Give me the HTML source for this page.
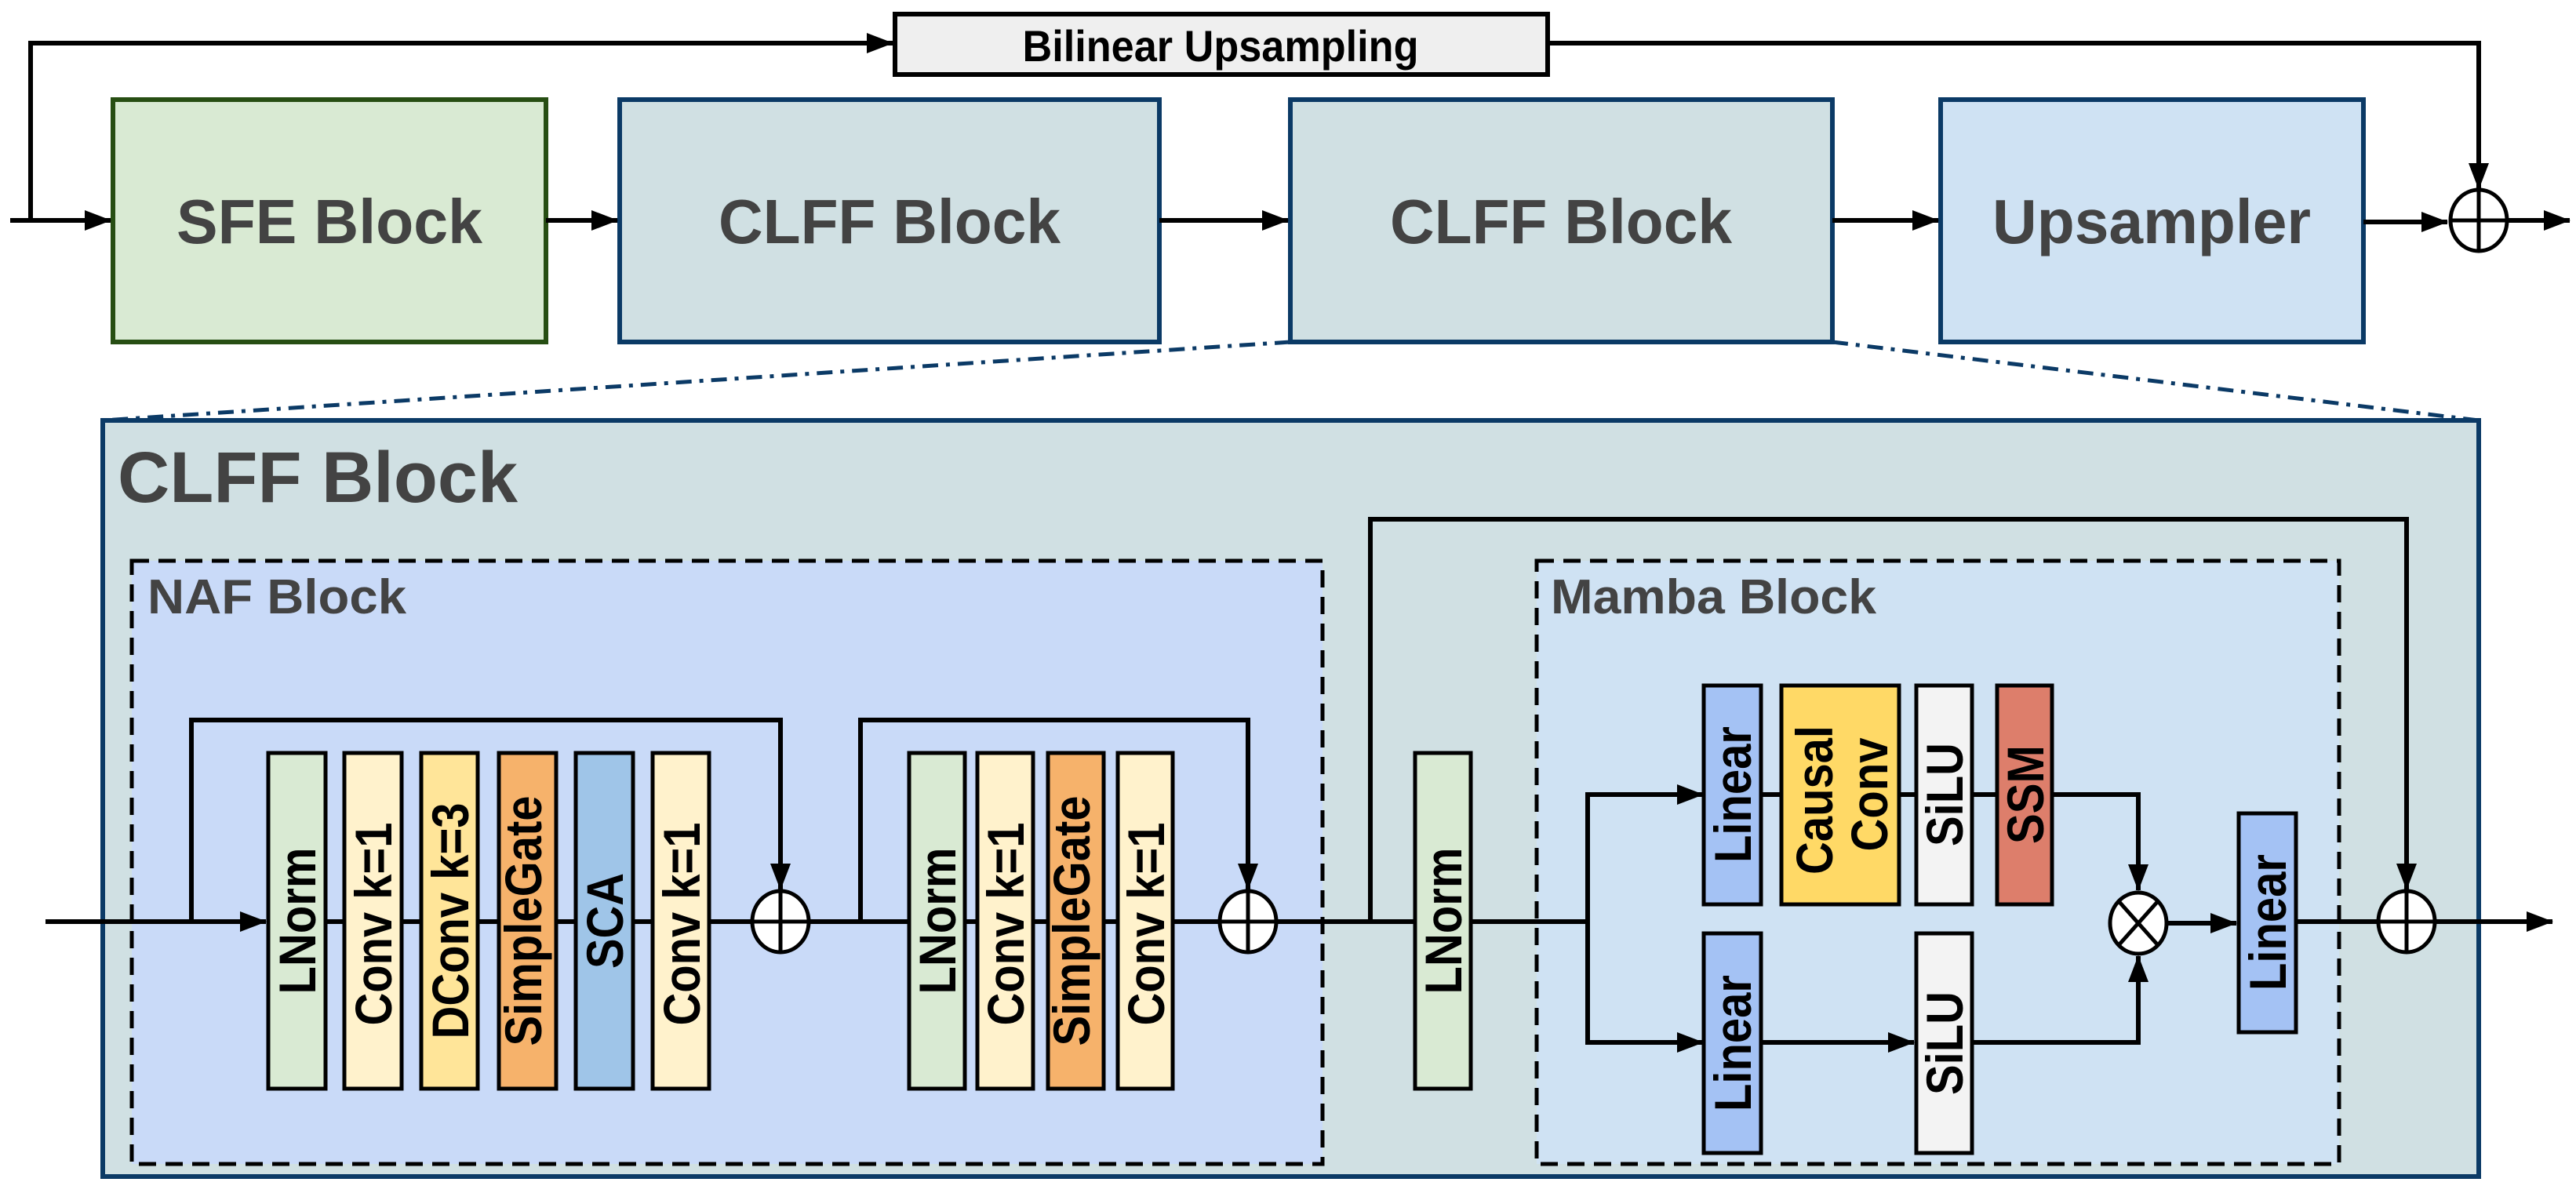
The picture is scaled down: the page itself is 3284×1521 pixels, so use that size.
<!DOCTYPE html>
<html><head><meta charset="utf-8"><style>
html,body{margin:0;padding:0;background:#fff;}
svg{display:block;}
text{font-family:"Liberation Sans",Arial,sans-serif;font-weight:bold;}
</style></head><body>
<svg width="3284" height="1521" viewBox="0 0 3284 1521" xmlns="http://www.w3.org/2000/svg">
<defs>
<marker id="a" markerWidth="34" markerHeight="26" refX="33" refY="13" orient="auto" markerUnits="userSpaceOnUse"><path d="M0,0 L34,13 L0,26z" fill="#000"/></marker>
</defs>

<!-- top row -->
<rect x="1141" y="18" width="832" height="77" fill="#efefef" stroke="#000" stroke-width="6"/>
<text x="1556" y="78" font-size="56" text-anchor="middle" textLength="505" lengthAdjust="spacingAndGlyphs" fill="#000">Bilinear Upsampling</text>

<rect x="144" y="127" width="552" height="309" fill="#d9ead3" stroke="#274e13" stroke-width="6"/>
<rect x="790" y="127" width="688" height="309" fill="#d0e0e3" stroke="#0b3a66" stroke-width="6"/>
<rect x="1645" y="127" width="691" height="309" fill="#d0e0e3" stroke="#0b3a66" stroke-width="6"/>
<rect x="2474" y="127" width="539" height="309" fill="#cfe2f3" stroke="#0b3a66" stroke-width="6"/>
<g font-size="80" fill="#434343" text-anchor="middle">
<text x="420" y="310" textLength="390" lengthAdjust="spacingAndGlyphs">SFE Block</text>
<text x="1134" y="310" textLength="436" lengthAdjust="spacingAndGlyphs">CLFF Block</text>
<text x="1990" y="310" textLength="436" lengthAdjust="spacingAndGlyphs">CLFF Block</text>
<text x="2743" y="310" textLength="406" lengthAdjust="spacingAndGlyphs">Upsampler</text>
</g>
<g stroke="#000" stroke-width="6" fill="none">
<line x1="13" y1="281" x2="141" y2="281" marker-end="url(#a)"/>
<polyline points="39,281 39,55 1138,55" marker-end="url(#a)"/>
<line x1="696" y1="281" x2="787" y2="281" marker-end="url(#a)"/>
<line x1="1478" y1="281" x2="1642" y2="281" marker-end="url(#a)"/>
<line x1="2336" y1="281" x2="2471" y2="281" marker-end="url(#a)"/>
<line x1="3013" y1="283" x2="3120" y2="283" marker-end="url(#a)"/>
<polyline points="1973,55 3160,55 3160,241" marker-end="url(#a)"/>
<line x1="3198" y1="281" x2="3276" y2="281" marker-end="url(#a)"/>
</g>
<g stroke="#000" stroke-width="5" fill="#fff">
<ellipse cx="3160" cy="281" rx="36" ry="39"/>
<line x1="3124" y1="281" x2="3196" y2="281"/><line x1="3160" y1="242" x2="3160" y2="320"/>
</g>

<!-- dash-dot zoom lines -->
<g stroke="#0b3a66" stroke-width="5" stroke-dasharray="20 10 5 10" fill="none">
<line x1="1645" y1="436" x2="131" y2="536"/>
<line x1="2336" y1="436" x2="3160" y2="536"/>
</g>

<!-- big CLFF box -->
<rect x="131" y="536" width="3029" height="964" fill="#d0e0e3" stroke="#0b3a66" stroke-width="6"/>
<text x="150" y="640" font-size="92" fill="#434343" textLength="510" lengthAdjust="spacingAndGlyphs">CLFF Block</text>

<rect x="168" y="715" width="1518" height="769" fill="#c9daf8" stroke="#000" stroke-width="5" stroke-dasharray="22 12"/>
<text x="188" y="782" font-size="62" fill="#434343" textLength="330" lengthAdjust="spacingAndGlyphs">NAF Block</text>
<rect x="1959" y="715" width="1023" height="769" fill="#cfe2f3" stroke="#000" stroke-width="5" stroke-dasharray="22 12"/>
<text x="1977" y="782" font-size="62" fill="#434343" textLength="415" lengthAdjust="spacingAndGlyphs">Mamba Block</text>

<!-- connectors -->
<g stroke="#000" stroke-width="6" fill="none">
<line x1="58" y1="1175" x2="339" y2="1175" marker-end="url(#a)"/>
<line x1="415" y1="1175" x2="957" y2="1175"/>
<line x1="1033" y1="1175" x2="1553" y2="1175"/>
<line x1="1629" y1="1175" x2="2024" y2="1175"/>
<polyline points="244,1175 244,918 995,918 995,1134" marker-end="url(#a)"/>
<polyline points="1097,1175 1097,918 1591,918 1591,1134" marker-end="url(#a)"/>
<polyline points="1747,1175 1747,662 3068,662 3068,1134" marker-end="url(#a)"/>
<polyline points="2024,1175 2024,1013 2171,1013" marker-end="url(#a)"/>
<polyline points="2024,1175 2024,1329 2171,1329" marker-end="url(#a)"/>
<line x1="2246" y1="1013" x2="2546" y2="1013"/>
<polyline points="2616,1013 2726,1013 2726,1135" marker-end="url(#a)"/>
<line x1="2244" y1="1329" x2="2440" y2="1329" marker-end="url(#a)"/>
<polyline points="2514,1329 2726,1329 2726,1219" marker-end="url(#a)"/>
<line x1="2763" y1="1177" x2="2851" y2="1177" marker-end="url(#a)"/>
<line x1="2927" y1="1175" x2="3031" y2="1175"/>
<line x1="3105" y1="1175" x2="3254" y2="1175" marker-end="url(#a)"/>
</g>

<!-- blocks -->
<g stroke="#000" stroke-width="5">
<rect x="342" y="960" width="73" height="428" fill="#d9ead3"/>
<rect x="439" y="960" width="73" height="428" fill="#fff2cc"/>
<rect x="537" y="960" width="72" height="428" fill="#ffe599"/>
<rect x="636" y="960" width="73" height="428" fill="#f6b26b"/>
<rect x="734" y="960" width="73" height="428" fill="#9fc5e8"/>
<rect x="832" y="960" width="72" height="428" fill="#fff2cc"/>
<rect x="1159" y="960" width="71" height="428" fill="#d9ead3"/>
<rect x="1246" y="960" width="71" height="428" fill="#fff2cc"/>
<rect x="1336" y="960" width="71" height="428" fill="#f6b26b"/>
<rect x="1425" y="960" width="70" height="428" fill="#fff2cc"/>
<rect x="1804" y="960" width="71" height="428" fill="#d9ead3"/>
<rect x="2172" y="874" width="73" height="279" fill="#a4c2f4"/>
<rect x="2271" y="874" width="150" height="279" fill="#ffd966"/>
<rect x="2443" y="874" width="71" height="279" fill="#f3f3f3"/>
<rect x="2546" y="874" width="70" height="279" fill="#dd7e6b"/>
<rect x="2172" y="1190" width="73" height="280" fill="#a4c2f4"/>
<rect x="2443" y="1190" width="71" height="280" fill="#f3f3f3"/>
<rect x="2854" y="1037" width="73" height="279" fill="#a4c2f4"/>
</g>

<g font-size="66" fill="#000" text-anchor="middle">
<text transform="translate(378,1174) rotate(-90)" y="24" textLength="187" lengthAdjust="spacingAndGlyphs">LNorm</text>
<text transform="translate(475,1178) rotate(-90)" y="24" textLength="259" lengthAdjust="spacingAndGlyphs">Conv k=1</text>
<text transform="translate(573,1174) rotate(-90)" y="24" textLength="301" lengthAdjust="spacingAndGlyphs">DConv k=3</text>
<text transform="translate(672,1174) rotate(-90)" y="18" textLength="319" lengthAdjust="spacingAndGlyphs">SimpleGate</text>
<text transform="translate(770,1174) rotate(-90)" y="24" textLength="122" lengthAdjust="spacingAndGlyphs">SCA</text>
<text transform="translate(868,1178) rotate(-90)" y="24" textLength="259" lengthAdjust="spacingAndGlyphs">Conv k=1</text>
<text transform="translate(1194,1174) rotate(-90)" y="24" textLength="187" lengthAdjust="spacingAndGlyphs">LNorm</text>
<text transform="translate(1281,1178) rotate(-90)" y="24" textLength="259" lengthAdjust="spacingAndGlyphs">Conv k=1</text>
<text transform="translate(1371,1174) rotate(-90)" y="18" textLength="319" lengthAdjust="spacingAndGlyphs">SimpleGate</text>
<text transform="translate(1460,1178) rotate(-90)" y="24" textLength="259" lengthAdjust="spacingAndGlyphs">Conv k=1</text>
<text transform="translate(1839,1174) rotate(-90)" y="24" textLength="187" lengthAdjust="spacingAndGlyphs">LNorm</text>
<text transform="translate(2208,1013) rotate(-90)" y="24" textLength="174" lengthAdjust="spacingAndGlyphs">Linear</text>
<text transform="translate(2312,1020) rotate(-90)" y="24" textLength="190" lengthAdjust="spacingAndGlyphs">Causal</text>
<text transform="translate(2382,1013) rotate(-90)" y="24" textLength="145" lengthAdjust="spacingAndGlyphs">Conv</text>
<text transform="translate(2478,1013) rotate(-90)" y="24" textLength="132" lengthAdjust="spacingAndGlyphs">SiLU</text>
<text transform="translate(2581,1013) rotate(-90)" y="24" textLength="126" lengthAdjust="spacingAndGlyphs">SSM</text>
<text transform="translate(2208,1330) rotate(-90)" y="24" textLength="174" lengthAdjust="spacingAndGlyphs">Linear</text>
<text transform="translate(2478,1330) rotate(-90)" y="24" textLength="132" lengthAdjust="spacingAndGlyphs">SiLU</text>
<text transform="translate(2890,1176) rotate(-90)" y="24" textLength="174" lengthAdjust="spacingAndGlyphs">Linear</text>
</g>

<!-- circles -->
<g stroke="#000" stroke-width="5" fill="#fff">
<ellipse cx="995" cy="1175" rx="36" ry="39"/>
<line x1="959" y1="1175" x2="1031" y2="1175"/><line x1="995" y1="1136" x2="995" y2="1214"/>
<ellipse cx="1591" cy="1175" rx="36" ry="39"/>
<line x1="1555" y1="1175" x2="1627" y2="1175"/><line x1="1591" y1="1136" x2="1591" y2="1214"/>
<ellipse cx="3068" cy="1175" rx="36" ry="39"/>
<line x1="3032" y1="1175" x2="3104" y2="1175"/><line x1="3068" y1="1136" x2="3068" y2="1214"/>
<ellipse cx="2726" cy="1177" rx="36" ry="39"/>
<line x1="2701" y1="1149" x2="2751" y2="1205"/><line x1="2751" y1="1149" x2="2701" y2="1205"/>
</g>
</svg>
</body></html>
